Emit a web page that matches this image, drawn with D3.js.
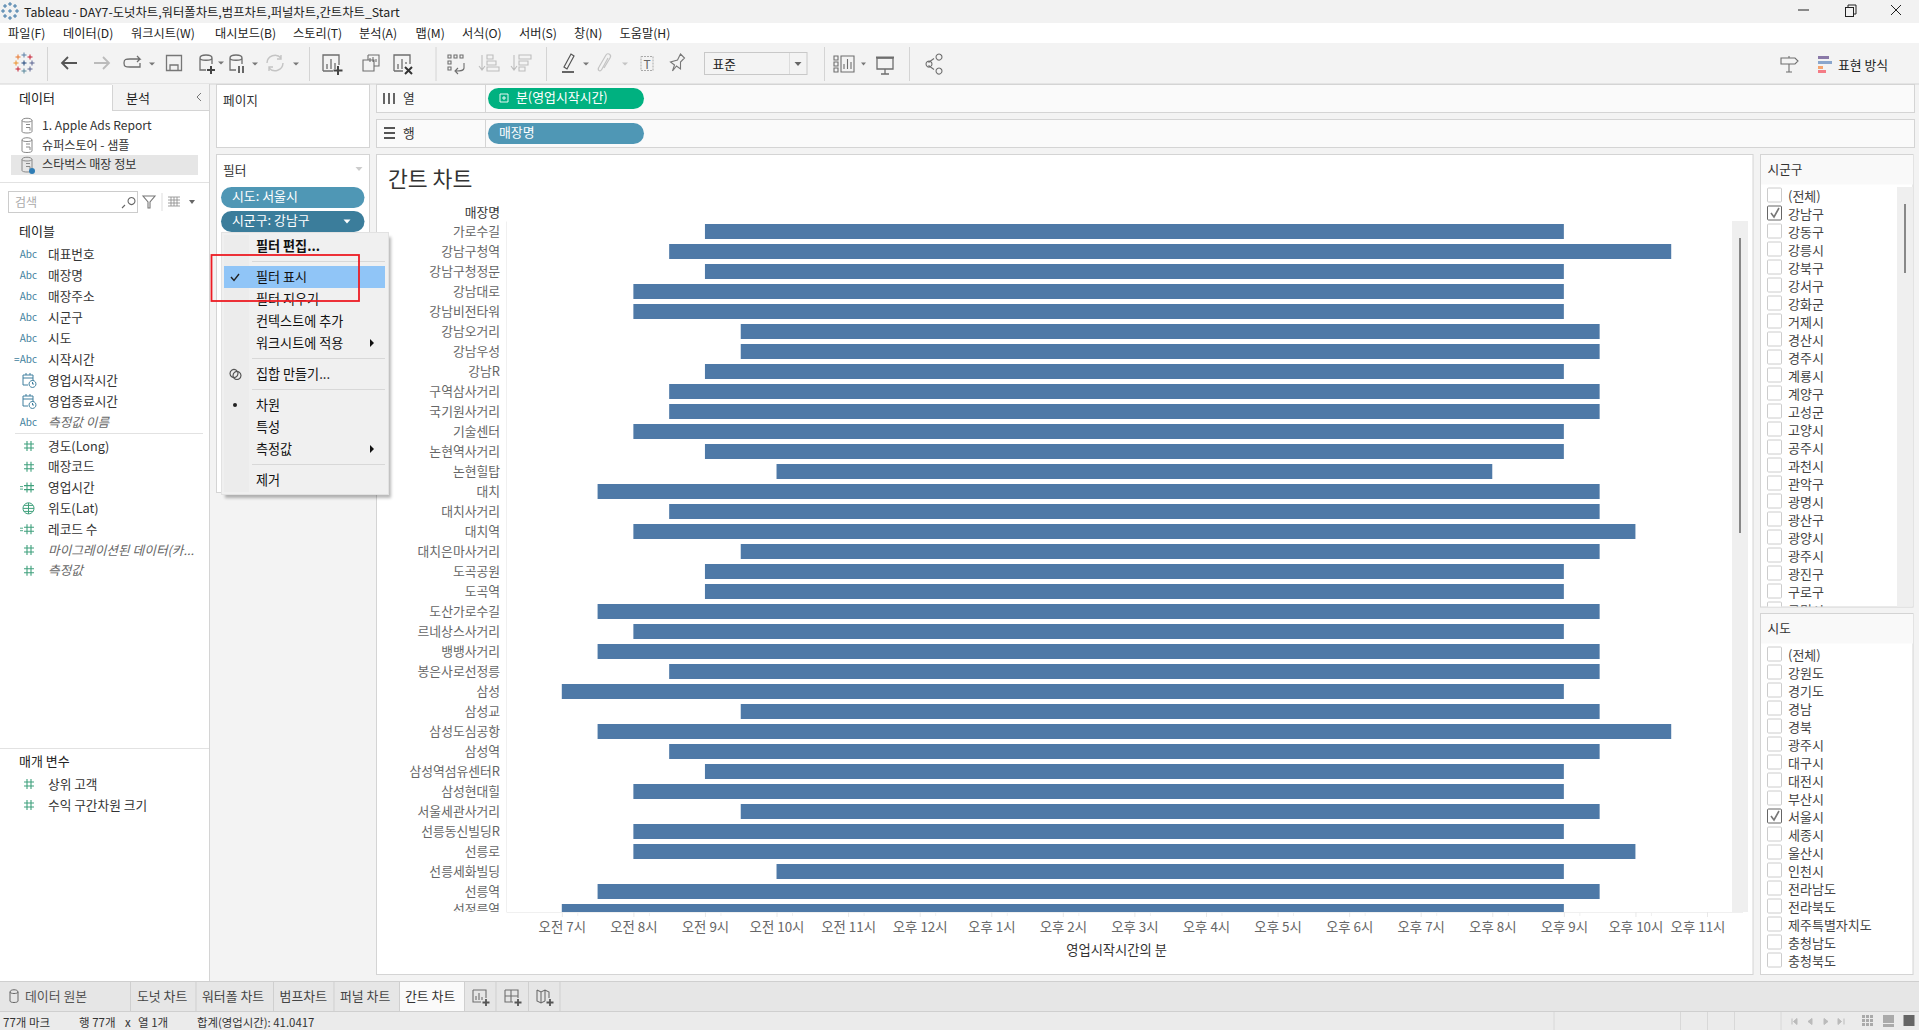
<!DOCTYPE html>
<html>
<head>
<meta charset="utf-8">
<script src="https://cdn.jsdelivr.net/npm/d3@7"></script>
<style>
html, body { margin: 0; padding: 0; background: #fff; overflow: hidden; }
svg { display: block; }
text { font-family: "Noto Sans CJK KR", "Noto Sans", sans-serif; font-size: 12.5px; fill: #333; dominant-baseline: central; }
</style>
</head>
<body>
<div id="chart"></div>
<script>
// chart data, hours on a 24h clock
var stores = ["가로수길", "강남구청역", "강남구청정문", "강남대로", "강남비전타워", "강남오거리", "강남우성", "강남R", "구역삼사거리", "국기원사거리",
    "기술센터", "논현역사거리", "논현힐탑", "대치", "대치사거리", "대치역", "대치은마사거리", "도곡공원", "도곡역", "도산가로수길",
    "르네상스사거리", "뱅뱅사거리", "봉은사로선정릉", "삼성", "삼성교", "삼성도심공항", "삼성역", "삼성역섬유센터R", "삼성현대힐", "서울세관사거리",
    "선릉동신빌딩R", "선릉로", "선릉세화빌딩", "선릉역", "선정릉역"];
var startHours = [9, 8.5, 9, 8, 8, 9.5, 9.5, 9, 8.5, 8.5,
    8, 9, 10, 7.5, 8.5, 8, 9.5, 9, 9, 7.5,
    8, 7.5, 8.5, 7, 9.5, 7.5, 8.5, 9, 8, 9.5,
    8, 8, 10, 7.5, 7];
var endHours = [21, 22.5, 21, 21, 21, 21.5, 21.5, 21, 21.5, 21.5,
    21, 21, 20, 21.5, 21.5, 22, 21.5, 21, 21, 21.5,
    21, 21.5, 21.5, 21, 21.5, 22.5, 21.5, 21, 21, 21.5,
    21, 22, 21, 21.5, 21];
var tickHours = [7, 8, 9, 10, 11, 12, 13, 14, 15, 16, 17, 18, 19, 20, 21, 22, 23];
var tickLabels = ["오전 7시", "오전 8시", "오전 9시", "오전 10시", "오전 11시", "오후 12시", "오후 1시", "오후 2시", "오후 3시",
    "오후 4시", "오후 5시", "오후 6시", "오후 7시", "오후 8시", "오후 9시", "오후 10시", "오후 11시"];

// window chrome texts
var menuNames = ["파일(F)", "데이터(D)", "워크시트(W)", "대시보드(B)", "스토리(T)", "분석(A)", "맵(M)", "서식(O)", "서버(S)", "창(N)", "도움말(H)"];
var menuX = [8, 63, 131, 215, 293, 359, 415.5, 462, 519, 574, 619.5];
var dataSources = ["1. Apple Ads Report", "슈퍼스토어 - 샘플", "스타벅스 매장 정보"];
var dimensionFields = ["대표번호", "매장명", "매장주소", "시군구", "시도", "시작시간", "영업시작시간", "영업종료시간", "측정값 이름"];
var dimensionIcons = ["Abc", "Abc", "Abc", "Abc", "Abc", "=Abc", "date", "date", "Abc"];
var measureFields = ["경도(Long)", "매장코드", "영업시간", "위도(Lat)", "레코드 수", "마이그레이션된 데이터(카...", "측정값"];
var measureIcons = ["#", "#", "=#", "globe", "=#", "#", "#"];
var paramFields = ["상위 고객", "수익 구간차원 크기"];
var sigungu = ["(전체)", "강남구", "강동구", "강릉시", "강북구", "강서구", "강화군", "거제시", "경산시", "경주시", "계룡시", "계양구",
    "고성군", "고양시", "공주시", "과천시", "관악구", "광명시", "광산구", "광양시", "광주시", "광진구", "구로구", "구미시"];
var sido = ["(전체)", "강원도", "경기도", "경남", "경북", "광주시", "대구시", "대전시", "부산시", "서울시", "세종시", "울산시", "인천시",
    "전라남도", "전라북도", "제주특별자치도", "충청남도", "충청북도"];
var sheetTabs = ["도넛 차트", "워터폴 차트", "범프차트", "퍼널 차트", "간트 차트"];
var sheetTabX = [137, 202, 279.6, 340, 405];

var WIDTH = 1919, HEIGHT = 1030;
var GRAY = "#d4d4d4", PANEL = "#f3f3f3", ICON = "#6e6e6e", BAR = "#4e79a7";
// Noto sits a bit lower than the original font
var TEXT_DY = -0.9;

var svg = d3.select("#chart").append("svg").attr("width", WIDTH).attr("height", HEIGHT);

function rect(p, x, y, w, h, fill, stroke) {
    return p.append("rect").attr("x", x).attr("y", y).attr("width", w).attr("height", h)
        .attr("fill", fill || "none").attr("stroke", stroke || "none");
}
function label(p, x, y, s, color, size, anchor) {
    var t = p.append("text").attr("x", x).attr("y", y + TEXT_DY).text(s).style("fill", color || "#333");
    if (size) t.style("font-size", size + "px");
    if (anchor) t.attr("text-anchor", anchor);
    return t;
}
function line(p, x1, y1, x2, y2, color, w) {
    return p.append("line").attr("x1", x1).attr("y1", y1).attr("x2", x2).attr("y2", y2)
        .attr("stroke", color || GRAY).attr("stroke-width", w || 1);
}
function path(p, d, color, w, fill) {
    return p.append("path").attr("d", d).attr("fill", fill || "none")
        .attr("stroke", color === undefined ? ICON : color).attr("stroke-width", w || 1.3);
}
function icon(x, y) {
    return svg.append("g").attr("transform", "translate(" + x + "," + y + ")");
}

// backgrounds
rect(svg, 0, 0, WIDTH, HEIGHT, PANEL);
rect(svg, 0, 0, WIDTH, 23, "#f2f2f2");
rect(svg, 0, 23, WIDTH, 20, "#fff");
rect(svg, 0, 84, 209, 897, "#fff");
line(svg, 0, 84, WIDTH, 84, GRAY);
line(svg, 209.5, 84, 209.5, 981, GRAY);

// title bar
var logo = icon(10, 11);
[[-5, -5], [0, -7], [5, -5], [-7, 0], [0, 0], [7, 0], [-5, 5], [0, 7], [5, 5]].forEach(function(d) {
    path(logo, "M" + (d[0] - 2) + " " + d[1] + "H" + (d[0] + 2) + "M" + d[0] + " " + (d[1] - 2) + "V" + (d[1] + 2), "#2f6d9f", 0.9);
});
label(svg, 24, 12.5, "Tableau - DAY7-도넛차트,워터폴차트,범프차트,퍼널차트,간트차트_Start", "#222", 12.35);
line(svg, 1798, 10, 1809, 10, "#222", 1);
rect(svg, 1845.5, 7.5, 8, 9, "none", "#222");
path(svg, "M1848 7V5H1856V14H1854", "#222", 1);
path(svg, "M1891 5L1901 15M1901 5L1891 15", "#222", 1);

// menu bar
svg.append("g").selectAll("text").data(menuNames).enter().append("text")
    .attr("x", function(d, i) { return menuX[i]; }).attr("y", 33).text(function(d) { return d; })
    .style("fill", "#222").style("font-size", "12.2px");

// toolbar
[47, 309, 435.5, 546, 824, 909].forEach(function(x) { line(svg, x + 0.5, 47, x + 0.5, 81, GRAY); });
var t = icon(24, 63);
[[-6, -6, "#e8762c"], [0, -8, "#5b7fa6"], [6, -6, "#c72035"], [-8, 0, "#eb912b"], [0, 0, "#1f447a"], [8, 0, "#5b6591"], [-6, 6, "#c72035"], [0, 8, "#59879b"], [6, 6, "#5b6591"]].forEach(function(d) {
    path(t, "M" + (d[0] - 2.5) + " " + d[1] + "H" + (d[0] + 2.5) + "M" + d[0] + " " + (d[1] - 2.5) + "V" + (d[1] + 2.5), d[2], 1);
});
path(icon(69, 63), "M8 0H-7M-1 -6L-7 0L-1 6", "#555", 1.8);
path(icon(102, 63), "M-8 0H7M1 -6L7 0L1 6", "#bbb", 1.8);
path(icon(132, 63), "M-8 0C-8 -4 -6 -4 -2 -4H8L5 -7M8 -4L5 -1M-8 0C-8 4 -6 4 -2 4H8V0", ICON);
[[152, 64], [221, 63], [255, 64], [296, 64]].forEach(function(d) {
    icon(d[0], d[1]).append("path").attr("d", "M-3 -1.5H3L0 1.5Z").attr("fill", "#777");
});
path(icon(174, 63), "M-7.5 -7.5H7.5V7.5H-7.5ZM-4 7.5V2H4V7.5", "#777");
var add = icon(206, 63);
path(add, "M-6 -5C-6 -9 6 -9 6 -5V1M-6 -5C-6 -2 6 -2 6 -5M-6 -5V7H0", ICON);
path(add, "M5 3V11M1 7H9", "#444", 2);
var pause = icon(236, 63);
path(pause, "M-6 -5C-6 -9 6 -9 6 -5V1M-6 -5C-6 -2 6 -2 6 -5M-6 -5V7H0", ICON);
path(pause, "M3 3V10M7 3V10", "#444", 1.6);
path(icon(275, 63), "M-8 0A8 8 0 0 1 6 -5M8 0A8 8 0 0 1 -6 5M6 -8V-4H2M-6 8V4H-2", "#c4c4c4", 1.4);
var nw = icon(331, 63);
path(nw, "M-8 8V-8H8V2M-4 6V1M0 6V-4M4 6V0M-8 8H2", ICON);
path(nw, "M7 3V12M2.5 7.5H11.5", "#444", 2);
path(icon(371, 63), "M-3 -8H8V3H3M-3 -8V-3M-8 -3H3V8H-8ZM-1 -1V-5M2 -1V-6M5 -1V-4", ICON, 1.1);
var cl = icon(402, 63);
path(cl, "M-8 8V-8H8V1M-4 6V1M0 6V-4M4 1V-1M-8 8H1", ICON);
path(cl, "M3 4L10 11M10 4L3 11", "#333", 2);
path(icon(456, 63), "M-8 -8H-5V-5H-8ZM-2 -8H1V-5H-2ZM4 -8H7V-5H4ZM-8 -2H-5V1H-8ZM-8 4H-5V7H-8ZM8 0V5C8 8 4 8 0 8M2 5L-1 8L2 11", ICON, 1.1);
path(icon(490, 63), "M-8 -8V6M-11 3L-8 7L-5 3M-3 -8H3V-4H-3ZM-3 -2H6V2H-3ZM-3 4H9V8H-3Z", "#bdbdbd", 1.1);
path(icon(522, 63), "M-8 -8V6M-11 3L-8 7L-5 3M-3 -8H9V-4H-3ZM-3 -2H6V2H-3ZM-3 4H3V8H-3Z", "#bdbdbd", 1.1);
var hl = icon(568, 63);
path(hl, "M-4 4L3 -9L6 -7L-1 6Z", "#555", 1.2);
line(hl, -6, 9, 6, 9, "#555", 1.8);
[[586, 64], [625, 64]].forEach(function(d) {
    icon(d[0], d[1]).append("path").attr("d", "M-3 -1.5H3L0 1.5Z").attr("fill", d[0] == 586 ? "#777" : "#c4c4c4");
});
path(icon(605, 63), "M3 -5L-3 6C-5 10 -8 7 -6 4L1 -8C3 -11 7 -8 5 -5L-1 5", "#c4c4c4", 1.2);
rect(svg, 641, 56.5, 12, 14, "none", "#aaa").attr("stroke-dasharray", "2,1");
label(svg, 647, 64.4, "T", "#666", 12, "middle");
path(icon(677.5, 63), "M3 -9L7 -5L3 -1L3 6L-1 3L-5 8L-3 2L-7 -1L0 -3Z", "#777", 1.1);
rect(svg, 704.5, 52.5, 102.5, 22, "#f3f3f3", "#c8c8c8");
line(svg, 789.5, 53, 789.5, 74, "#dcdcdc");
label(svg, 712.6, 64.4, "표준", "#222", 12.6);
icon(798, 64).append("path").attr("d", "M-3.5 -2H3.5L0 2Z").attr("fill", "#666");
var sm = icon(846, 64);
path(sm, "M-12 -8H-8V-4H-12ZM-12 -2H-8V2H-12ZM-12 4H-8V8H-12ZM-5 -8H8V8H-5ZM-2 5V0M1.5 5V-5M5 5V-2", ICON, 1.1);
icon(863.5, 64).append("path").attr("d", "M-2.5 -1.5H2.5L0 1.5Z").attr("fill", "#777");
var pr = icon(885, 64);
path(pr, "M-8 -6H8V5H-8ZM0 5V10M-4 10H4", ICON);
line(pr, -9, -6.5, 9, -6.5, ICON, 2);
path(icon(932, 64), "M-6 0A3 3 0 1 1 -6 0.1M4 -7A3 3 0 1 1 4 -6.9M4 7A3 3 0 1 1 4 7.1M-3.5 -1.5L2 -5.5M-3.5 1.5L2 5.5", ICON, 1.1);
path(icon(1789, 62), "M-8 -4H6L9 -1L6 2H-8ZM0 -6V-4M0 2V10M-3 10H3", ICON, 1.1);
var hs = icon(1818, 56);
rect(hs, 0, 0, 11, 3, "#8a79a8");
rect(hs, 0, 5, 14, 3, "#8aa6cc");
rect(hs, 0, 10, 5, 3, "#f5a36e");
rect(hs, 0, 14, 8, 3, "#f47b85");
label(svg, 1838, 64.9, "표현 방식", "#222", 12.8);

// data pane
rect(svg, 112, 84, 97, 26, PANEL);
line(svg, 112.5, 85, 112.5, 110, GRAY);
line(svg, 112, 110.5, 209, 110.5, GRAY);
label(svg, 19, 98, "데이터", "#222", 13);
label(svg, 126, 98, "분석", "#222", 13);
path(icon(199, 97), "M2 -4L-2 0L2 4", "#777", 1);
rect(svg, 11, 155, 187, 20, "#e6e6e6");
dataSources.forEach(function(s, i) {
    var y = [125.5, 145, 164.5][i];
    var g = icon(27, y);
    path(g, "M-5 -5C-5 -8 5 -8 5 -5V6C5 8 -5 8 -5 6ZM-5 -5C-5 -3 5 -3 5 -5", "#888", 1);
    path(g, "M-1 -1H3M-1 2H3V5", "#888", 1);
    label(svg, 42, y, s, "#333", 12.1);
});
icon(32, 171).append("circle").attr("r", 3).attr("fill", "#2f7db5");
rect(svg, 8.5, 191.5, 129, 21, "#fff", "#ccc");
label(svg, 15, 202, "검색", "#aaa", 12);
path(icon(125, 202), "M3 -1A3.5 3.5 0 1 1 3 -0.9M0 3L-3 6", "#666", 1.1);
path(icon(149, 202), "M-6 -6H6L1 0V6L-1 6V0Z", "#777", 1.1);
line(svg, 162, 193, 162, 211, "#ddd");
path(icon(174, 202), "M-6 -5H6M-6 -2H6M-6 1H6M-6 4H6M-3 -5V4M0 -5V4M3 -5V4", "#888", 0.8);
icon(192, 202).append("path").attr("d", "M-3 -2H3L0 2Z").attr("fill", "#666");
line(svg, 0, 182.5, 209, 182.5, "#e2e2e2", 1);
label(svg, 19, 231, "테이블", "#222", 13);

function fieldIcon(kind, y) {
    if (kind == "Abc" || kind == "=Abc") {
        label(svg, 37, y, kind, "#3f7f9e", 10, "end");
    } else if (kind == "date") {
        var d = icon(29, y);
        path(d, "M-6 -5H4V1M-6 -5V5H-1M-6 -2H4M-3 -7V-5M1 -7V-5", "#3f7f9e", 1);
        path(d, "M7 4A3.5 3.5 0 1 1 7 3.9M3.5 2V4H5", "#3f7f9e", 1);
    } else if (kind == "globe") {
        var o = icon(28.5, y);
        path(o, "M5.5 0A5.5 5.5 0 1 1 5.5 -0.1M-5.5 0H5.5M0 -5.5V5.5M-4.5 -3H4.5M-4.5 3H4.5", "#3fa07c", 1);
    } else {
        var h = icon(29, y);
        path(h, "M-2 -5V5M2 -5V5M-5 -2H5M-5 2H5", "#3fa07c", 1.1);
        if (kind == "=#") path(h, "M-9 -1H-6M-9 1.5H-6", "#3fa07c", 0.9);
    }
}
dimensionFields.forEach(function(s, i) {
    var y = 254 + i * 21;
    fieldIcon(dimensionIcons[i], y);
    label(svg, 48, y, s, i == 8 ? "#666" : "#333", 12.7).style("font-style", i == 8 ? "italic" : "normal");
});
line(svg, 15, 433.5, 203, 433.5, "#e2e2e2");
measureFields.forEach(function(s, i) {
    var y = 446 + i * 20.8;
    var slanted = i >= 5;
    fieldIcon(measureIcons[i], y);
    label(svg, 48, y, s, slanted ? "#666" : "#333", 12.7).style("font-style", slanted ? "italic" : "normal");
});
line(svg, 0, 748.5, 209, 748.5, "#e2e2e2");
label(svg, 19, 761, "매개 변수", "#222", 13);
paramFields.forEach(function(s, i) {
    var y = 784 + i * 21;
    fieldIcon("#", y);
    label(svg, 48, y, s, "#333", 12.7);
});

// pages and filters
rect(svg, 216.5, 84.5, 153, 63, "#fff", GRAY);
label(svg, 223, 100, "페이지", "#333", 12.7);
rect(svg, 216.5, 154.5, 153, 338, "#fff", GRAY);
label(svg, 223, 170, "필터", "#333", 12.7);
icon(359, 169).append("path").attr("d", "M-3.5 -2H3.5L0 2Z").attr("fill", "#ccc");

function pill(x, y, w, h, color, s, tx) {
    rect(svg, x, y, w, h, color).attr("rx", h / 2).attr("ry", h / 2);
    label(svg, tx, y + h / 2 - 0.8, s, "#fff", 12.9);
}
pill(221, 187, 143.5, 21, "#4f97b5", "시도: 서울시", 232);
pill(221, 211, 143.5, 21, "#3b7d9b", "시군구: 강남구", 232);
icon(347, 221.5).append("path").attr("d", "M-3.5 -2H3.5L0 2Z").attr("fill", "#fff");

// shelves
rect(svg, 376.5, 84.5, 1538, 28, "#fafafa", GRAY);
rect(svg, 376.5, 119.5, 1538, 28, "#fafafa", GRAY);
line(svg, 485.5, 85, 485.5, 112, GRAY);
line(svg, 485.5, 120, 485.5, 147, GRAY);
path(icon(389, 98), "M-5 -5V6M0 -5V6M5 -5V6", "#555", 1.8);
label(svg, 403, 98, "열", "#333", 12.7);
path(icon(389, 133), "M-5 -5H6M-5 0H6M-5 5H6", "#555", 1.8);
label(svg, 403, 133, "행", "#333", 12.7);
pill(488, 88, 156, 21, "#00b180", "분(영업시작시간)", 516);
path(icon(504, 98), "M-4 -4H4V4H-4ZM-2 0H2M0 -2V2", "#fff", 0.9);
pill(488, 123, 156, 21, "#4f97b5", "매장명", 499);

// worksheet
rect(svg, 376.5, 154.5, 1376.5, 820, "#fff", GRAY);
label(svg, 388, 178, "간트 차트", "#333", 21.6);
label(svg, 500, 212.5, "매장명", "#333", 12.8, "end");

var plotTop = 221.5, plotBottom = 912, plotLeft = 506.5, plotRight = 1732;
var x = d3.scaleLinear().domain([7, 23]).range([561.8, 1707]);
var y = d3.scaleBand().domain(stores).range([plotTop, plotTop + stores.length * 20]).paddingInner(0.25).paddingOuter(0.125);

svg.append("clipPath").attr("id", "plot-clip").append("rect")
    .attr("x", 376).attr("y", plotTop).attr("width", plotRight - 376).attr("height", plotBottom - plotTop);

var plot = svg.append("g").attr("clip-path", "url(#plot-clip)");
plot.selectAll("rect").data(stores).enter().append("rect")
    .attr("x", function(d, i) { return x(startHours[i]); })
    .attr("y", function(d) { return y(d); })
    .attr("width", function(d, i) { return x(endHours[i]) - x(startHours[i]); })
    .attr("height", y.bandwidth())
    .attr("fill", BAR);

var yAxis = d3.axisLeft(y).tickSize(0).tickPadding(6.5);
var yAxisG = plot.append("g").attr("transform", "translate(" + plotLeft + ",0)").call(yAxis);
yAxisG.select(".domain").remove();
// last row is cut by the pane, Tableau nudges its label up
yAxisG.selectAll("text").attr("dy", function(d, i) { return i == stores.length - 1 ? -3.5 : TEXT_DY; })
    .style("fill", "#666").style("font-size", "12.8px")
    .style("font-family", '"Noto Sans CJK KR", sans-serif');
line(svg, plotLeft, plotTop, plotLeft, plotBottom, "#f0f0f0");

var xAxisG = svg.append("g").attr("transform", "translate(0," + plotBottom + ")")
    .call(d3.axisBottom(x).tickValues(tickHours).tickSize(5).tickFormat(function(d, i) { return tickLabels[i]; }));
xAxisG.select(".domain").attr("stroke", "#f0f0f0").attr("d", "M" + plotLeft + " 0.5H" + (plotRight + 11));
xAxisG.selectAll("line").attr("stroke", "#e8e8e8");
xAxisG.selectAll("text").attr("y", 14.2).attr("dy", 0).style("fill", "#666").style("font-size", "13.4px")
    .style("font-family", '"Noto Sans CJK KR", sans-serif')
    .attr("dx", function(d) { return d == 23 ? -9.5 : 0; });
// the small second tick next to each hour, as Tableau drew it
var minorG = svg.append("g").attr("transform", "translate(0," + plotBottom + ")");
minorG.selectAll("line").data(tickHours.slice(0, 16)).enter().append("line")
    .attr("x1", function(d) { return x(d) + 16; }).attr("x2", function(d) { return x(d) + 16; })
    .attr("y1", 0).attr("y2", 4).attr("stroke", "#f0f0f0");
label(svg, 1116.6, 950.5, "영업시작시간의 분", "#333", 13.3, "middle");

// worksheet scrollbar
rect(svg, 1732, 221, 16, 691, "#efefef");
rect(svg, 1739, 238, 2, 295, "#888");

// filter card
function filterCard(top, bottom, title, items, checked, scroll) {
    rect(svg, 1760.5, top + 0.5, 152.5, bottom - top, "#fff", GRAY);
    rect(svg, 1761, top + 1, 152, 29.5, "#f9f9f9");
    label(svg, 1767.5, top + 15.5, title, "#333", 12.7);
    var g = svg.append("g");
    var clipId = "clip" + top;
    svg.append("clipPath").attr("id", clipId).append("rect").attr("x", 1761).attr("y", top + 31).attr("width", 152).attr("height", bottom - top - 31);
    g.attr("clip-path", "url(#" + clipId + ")");
    items.forEach(function(s, i) {
        var yy = top + 41 + i * 18;
        rect(g, 1767.5, yy - 7, 14, 14, "#fff", i == checked ? "#666" : "#ccc").attr("rx", 1);
        if (i == checked) path(g, "M1771 " + yy + "L1774 " + (yy + 4) + "L1779 " + (yy - 5), "#777", 1.6);
        label(g, 1788, yy + 1.4, s, "#444", 13);
    });
    if (scroll) {
        rect(svg, 1897, top + 33, 16, bottom - top - 33, "#efefef");
        rect(svg, 1904, top + 50, 2, 69, "#888");
    }
}
filterCard(154, 606.5, "시군구", sigungu, 1, true);
filterCard(613, 974, "시도", sido, 9, false);

// context menu
var menuItems = [["필터 편집...", 246], ["필터 표시", 277], ["필터 지우기", 299], ["컨텍스트에 추가", 321], ["워크시트에 적용", 343],
    ["집합 만들기...", 374], ["차원", 405], ["특성", 427], ["측정값", 449], ["제거", 480]];
rect(svg, 225, 237, 166, 261, "rgba(0,0,0,0.28)").style("filter", "blur(1.5px)");
rect(svg, 221.5, 232.5, 167, 262, "#f0f0f0", "#e2e2e2");
rect(svg, 224, 235, 25, 257, "#ececec");
rect(svg, 224, 266, 161, 22, "#90c5f7");
[261, 358, 389, 464].forEach(function(yy) { line(svg, 252, yy + 0.5, 385, yy + 0.5, "#d8d8d8"); });
menuItems.forEach(function(d, i) {
    label(svg, 256, d[1], d[0], "#111", 13.1).style("font-weight", i == 0 ? 700 : 400);
});
path(svg, "M231 277L234 280.5L239 274", "#222", 1.4);
icon(235, 405).append("circle").attr("r", 2).attr("fill", "#222");
[343, 449].forEach(function(yy) { icon(372, yy).append("path").attr("d", "M-2 -4L2 0L-2 4Z").attr("fill", "#111"); });
path(icon(235, 373.5), "M3 0A4 4 0 1 1 3 -0.1M6 2A4 4 0 1 1 6 1.9", "#555", 1.2);
rect(svg, 211.5, 255, 147.5, 46, "none", "#ed1c24").attr("stroke-width", 1.8);

// sheet tabs
rect(svg, 0, 981.5, WIDTH, 29.5, "#e6e6e6");
line(svg, 0, 981.5, WIDTH, 981.5, "#cfcfcf");
rect(svg, 400, 982, 64.5, 29, "#fafafa");
[130.5, 196, 273.5, 334, 399.5, 464.5, 496, 528.5, 560].forEach(function(xx) { line(svg, xx, 982, xx, 1011, "#cfcfcf"); });
path(icon(14, 996), "M-4 -4C-4 -7 4 -7 4 -4V5C4 7 -4 7 -4 5ZM-4 -4C-4 -2 4 -2 4 -4", "#666", 1);
label(svg, 25, 996, "데이터 원본", "#555", 12.9);
sheetTabs.forEach(function(s, i) { label(svg, sheetTabX[i], 996, s, i == 4 ? "#333" : "#444", 12.9); });
var ns = icon(480, 996);
path(ns, "M-7 -6H6V2M-7 -6V6H1M-4 4V0M-1 4V-3M2 4V1", ICON, 1.1);
path(ns, "M6 3V10M2.5 6.5H9.5", "#555", 1.8);
var nd = icon(512, 996);
path(nd, "M-7 -6H6V2M-7 -6V6H1M-7 0H6M-1 -6V6", ICON, 1.1);
path(nd, "M6 3V10M2.5 6.5H9.5", "#555", 1.8);
var nb = icon(544, 996);
path(nb, "M-7 -6L-3 -4L1 -6L5 -4V2M-7 -6V5L-3 7L1 5M-3 -4V7M1 -6V5", ICON, 1.1);
path(nb, "M6 3V10M2.5 6.5H9.5", "#555", 1.8);

// status bar
rect(svg, 0, 1011, WIDTH, 19, "#ebebeb");
line(svg, 0, 1011.5, WIDTH, 1011.5, "#cfcfcf");
label(svg, 3, 1022.5, "77개 마크", "#333", 11.5);
label(svg, 79, 1022.5, "행 77개", "#333", 11.5);
label(svg, 125, 1022.5, "x", "#333", 11.5);
label(svg, 138, 1022.5, "열 1개", "#333", 11.5);
label(svg, 197, 1022.5, "합계(영업시간): 41.0417", "#333", 11.4);
[1554, 1680.5, 1707.5, 1734.5, 1781].forEach(function(xx) { line(svg, xx, 1012, xx, 1030, "#d8d8d8"); });
[[1792, "M0 -3V3M5 -3L1.5 0L5 3Z"], [1809, "M3 -3L-1 0L3 3Z"], [1825, "M-1 -3L3 0L-1 3Z"], [1841, "M-3 -3L0.5 0L-3 3ZM3 -3V3"]].forEach(function(d) {
    path(icon(d[0], 1021.5), d[1], "#bbb", 1, "#bbb");
});
d3.range(0, 3).forEach(function(r) {
    d3.range(0, 3).forEach(function(c) { rect(svg, 1862 + c * 4, 1015 + r * 4, 3, 3, "#aaa"); });
});
rect(svg, 1883, 1015, 11, 8, "#aaa");
rect(svg, 1883, 1024, 11, 3, "#aaa");
rect(svg, 1903.5, 1015, 11, 11, "#666");
</script>
</body>
</html>
